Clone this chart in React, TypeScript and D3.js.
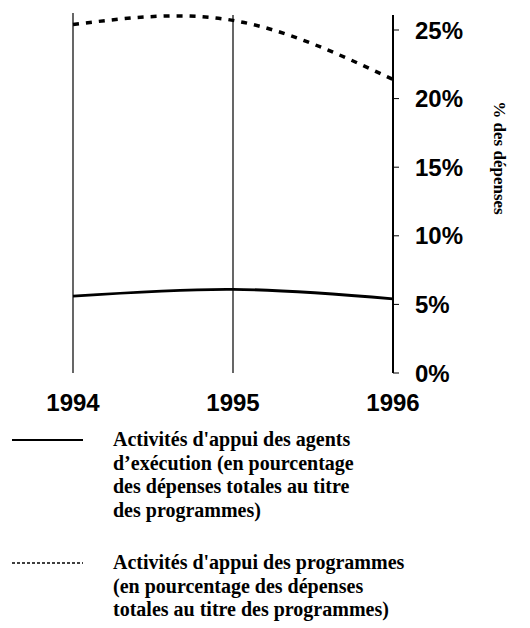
import * as d3 from "d3";

const years = [1994, 1995, 1996];
const agentsSupport = [5.6, 6.1, 5.4];
const programmeSupport = [25.4, 25.7, 21.4];
const yTicks = [0, 5, 10, 15, 20, 25];

const legendSolid = [
  "Activités d'appui des agents",
  "d\u2019exécution (en pourcentage",
  "des dépenses totales au titre",
  "des programmes)",
];
const legendDashed = [
  "Activités d'appui des programmes",
  "(en pourcentage des dépenses",
  "totales au titre des programmes)",
];

const W = 530;
const H = 628;

export default function App() {
  const x = d3.scaleLinear().domain([1994, 1996]).range([73, 393]);
  const y = d3.scaleLinear().domain([0, 25]).range([373, 30]);

  const line = d3
    .line<number>()
    .x((_, i) => x(years[i]))
    .y((d) => y(d))
    .curve(d3.curveNatural);

  const sans = "'Liberation Sans', Arial, sans-serif";
  const serif = "'Liberation Serif', 'Times New Roman', serif";

  return (
    <svg
      width={W}
      height={H}
      style={{ position: "absolute", left: 0, top: 0, background: "#fff" }}
    >
      {/* vertical year lines */}
      <line x1={x(1994)} x2={x(1994)} y1={13} y2={y(0)} stroke="#000" strokeWidth={1.2} />
      <line x1={x(1995)} x2={x(1995)} y1={15} y2={y(0)} stroke="#000" strokeWidth={1.2} />
      {/* right axis */}
      <line x1={x(1996)} x2={x(1996)} y1={15} y2={y(0)} stroke="#000" strokeWidth={2} />
      {yTicks.map((t) => (
        <g key={t}>
          <line x1={x(1996)} x2={x(1996) + 6} y1={y(t)} y2={y(t)} stroke="#000" strokeWidth={1} />
          <text
            x={415}
            y={y(t)}
            dy="0.36em"
            fontFamily={sans}
            fontWeight="bold"
            fontSize={24}
          >
            {t}%
          </text>
        </g>
      ))}

      {/* series */}
      <path d={line(programmeSupport) ?? ""} fill="none" stroke="#000" strokeWidth={3.5} strokeDasharray="6 7" />
      <path d={line(agentsSupport) ?? ""} fill="none" stroke="#000" strokeWidth={2.8} />

      {/* year labels */}
      {years.map((yr) => (
        <text
          key={yr}
          x={x(yr)}
          y={411}
          textAnchor="middle"
          fontFamily={sans}
          fontWeight="bold"
          fontSize={24}
        >
          {yr}
        </text>
      ))}

      {/* axis title */}
      <text
        transform="translate(500,158) rotate(90)"
        textAnchor="middle"
        dy="0.35em"
        fontFamily={serif}
        fontWeight="bold"
        fontSize={17}
      >
        % des dépenses
      </text>

      {/* legend */}
      <line x1={12} x2={83} y1={440} y2={440} stroke="#000" strokeWidth={2} />
      {legendSolid.map((s, i) => (
        <text key={s} x={113} y={446 + i * 23.5} fontFamily={serif} fontWeight="bold" fontSize={20}>
          {s}
        </text>
      ))}
      <line x1={12} x2={83} y1={563} y2={563} stroke="#000" strokeWidth={1.5} strokeDasharray="3 2" />
      {legendDashed.map((s, i) => (
        <text key={s} x={113} y={569 + i * 23.5} fontFamily={serif} fontWeight="bold" fontSize={20}>
          {s}
        </text>
      ))}
    </svg>
  );
}
